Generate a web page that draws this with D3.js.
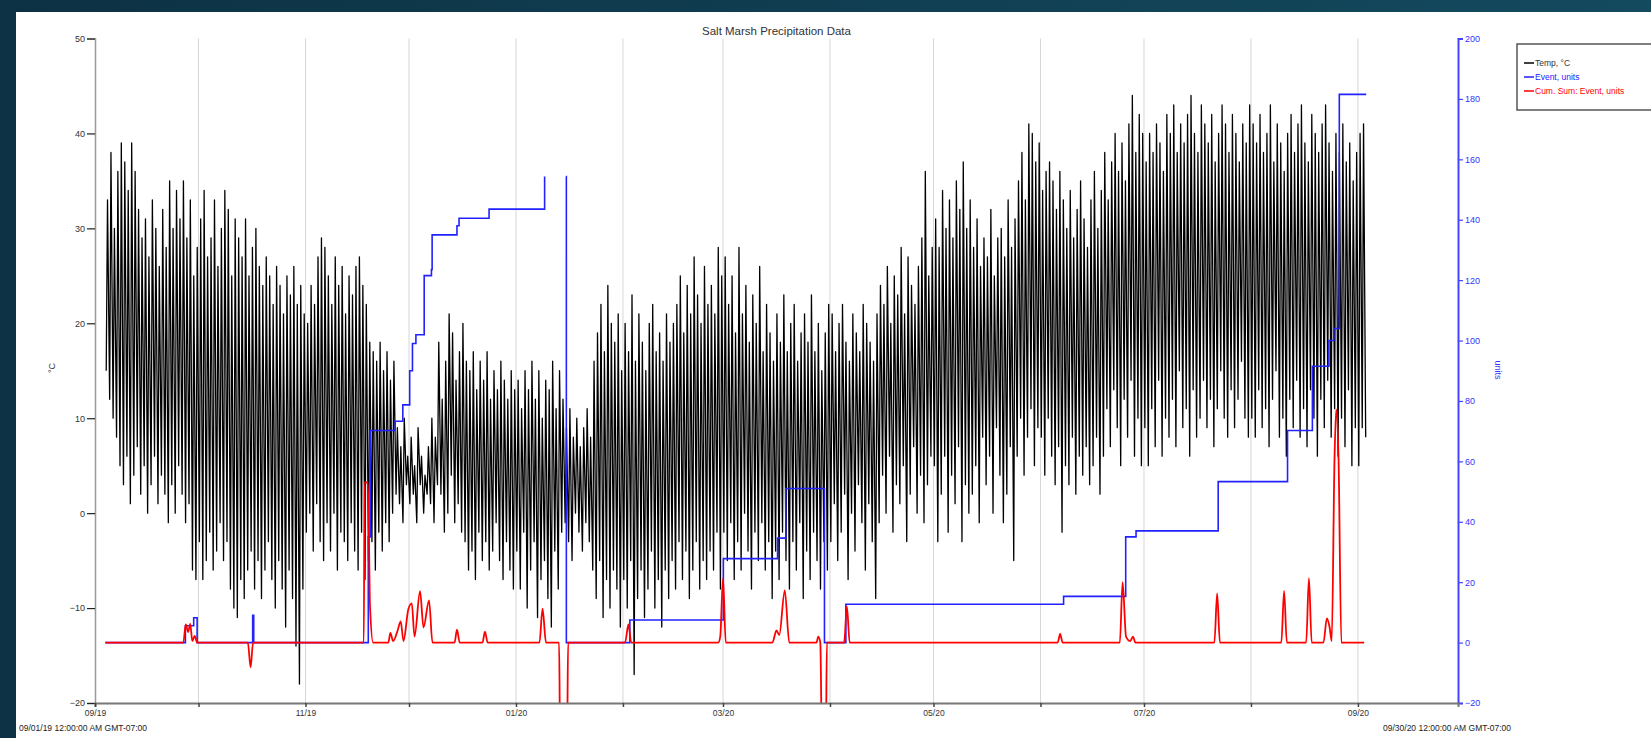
<!DOCTYPE html>
<html>
<head>
<meta charset="utf-8">
<script src="https://cdn.jsdelivr.net/npm/d3@7"></script>
<style>
  body { margin: 0; background: #0f3447; }
  svg { display: block; font-family: "Liberation Sans", Arial, sans-serif; }
</style>
</head>
<body>
<div id="chart"></div>
<script>
// daily low / high temperature (°C), from 09/04/19
const tempLow = [
  15, 12, 10, 8, 5, 3, 6, 1, 4, 7, 2, 5, 0, 3, 6, 1, 4, 2, -1, 3, 0, 5, 2, -1, 1, -6, -7,            // sep
  -3, -7, -5, -2, -6, -4, -1, -5, -3, -8, -10, -11, -7, -9, -6, -4, -8, -5, -9, -6, -3, -7, -10, -5, -8, -12, -6, -9, -14, -18, -8, // oct
  -2, 0, -4, 1, -3, -5, -1, -4, 0, -6, -2, -3, -5, -1, -4, -6, -2, -7, -5, -3, -6, -2, -4, -1, -3, 0, 2, 1, -1, 3, // nov
  1, 2, -1, 3, 0, 2, 1, -1, 3, 2, -2, 0, 4, -1, 1, -2, -3, -6, -4, -7, -2, -5, -3, -6, -4, -1, -5, -7, -3, -6, -8, // dec
  -4, -8, -2, -10, -6, -3, -11, -7, -5, -9, -12, -4, -8, -2, -1, -3, -5, 0, -2, -4, -1, -3, -6, -9, -5, -11, -7, -10, -6, -8, -12, // jan
  -7, -10, -5, -17, -9, -6, -11, -8, -4, -10, -7, -12, -6, -9, -5, -8, -3, -7, -4, -9, -6, -3, -8, -5, -7, -4, -6, -2, -8, // feb
  -2, -5, -1, -7, -3, -6, 0, -4, -8, -2, -5, -1, -6, -3, -9, -4, -7, -2, -5, -8, -3, -6, -1, -9, -4, -7, -2, -5, -8, -3, -6, // mar
  -3, 1, -5, -2, 2, -7, 0, -4, 3, -1, -6, 1, -3, -9, -1, 4, 0, 6, -2, 3, 1, 5, -3, 2, 7, 0, 4, -1, 3, 6, // apr
  5, -3, 2, 6, -2, 4, 1, 7, -3, 3, 0, 2, 5, -1, 8, 3, 6, 0, 9, 4, -1, 2, 7, -5, 6, 10, 4, 8, 11, 5, 9, // may
  8, 4, 10, 6, 3, 7, -2, 5, 3, 8, 2, 6, 4, 7, 3, 5, 8, 2, 6, 11, 7, 13, 9, 5, 12, 8, 14, 6, 10, 5, // jun
  9, 5, 11, 7, 14, 6, 10, 8, 12, 7, 15, 9, 11, 6, 13, 8, 10, 14, 9, 12, 7, 11, 15, 10, 8, 13, 9, 12, 16, 10, 8, // jul
  10, 8, 13, 9, 11, 7, 12, 15, 8, 10, 6, 12, 9, 14, 8, 11, 7, 13, 10, 6, 12, 9, 14, 8, 11, 6, 10, 7, 13, 5, 9, // aug
  5, 9, 8 // sep
];
const tempHigh = [
  33, 38, 30, 36, 39, 37, 34, 39, 36, 32, 29, 31, 27, 33, 30, 26, 32, 28, 35, 30, 34, 31, 35, 29, 33, 25, 28,
  31, 34, 27, 29, 33, 26, 30, 34, 32, 25, 31, 29, 27, 31, 25, 28, 30, 26, 24, 27, 25, 22, 26, 24, 21, 25, 23, 26, 22, 24, 21,
  20, 24, 22, 27, 29, 28, 25, 22, 27, 24, 26, 21, 25, 23, 26, 27, 24, 22, 18, 17, 16, 18, 15, 17, 14, 16, 9, 7, 10, 6,
  8, 5, 9, 6, 4, 7, 10, 8, 18, 12, 16, 21, 19, 14, 17, 20, 16, 15, 17, 13, 16, 14, 17, 12, 15, 13, 16, 14, 12, 15, 13,
  14, 11, 15, 13, 16, 12, 15, 10, 14, 13, 16, 11, 15, 12, 9, 11, 8, 10, 7, 9, 11, 8, 16, 19, 22, 17, 24, 20, 18, 21, 15,
  20, 17, 23, 16, 21, 18, 15, 20, 22, 17, 19, 16, 21, 18, 20, 22, 25, 19, 24, 21, 27, 23, 20, 26, 22, 24, 21, 28, 25,
  27, 22, 25, 19, 28, 21, 24, 18, 23, 20, 26, 17, 22, 19, 16, 21, 18, 23, 17, 20, 22, 16, 19, 21, 18, 23, 17, 20, 15, 19, 22,
  21, 17, 20, 22, 18, 16, 21, 19, 17, 22, 20, 18, 16, 21, 24, 22, 26, 20, 25, 23, 28, 21, 27, 24, 22, 26, 29, 36, 25, 28,
  31, 28, 34, 30, 33, 29, 35, 32, 37, 30, 33, 28, 31, 26, 29, 27, 32, 25, 29, 30, 27, 33, 28, 31, 35, 38, 33, 41, 40, 37, 39,
  34, 36, 37, 35, 32, 36, 33, 30, 34, 29, 32, 35, 31, 28, 33, 36, 30, 34, 38, 33, 37, 40, 36, 39, 35, 41, 44, 38, 42, 40,
  37, 40, 38, 41, 39, 36, 42, 40, 43, 38, 41, 39, 42, 44, 40, 38, 43, 41, 39, 42, 37, 40, 43, 41, 38, 42, 40, 37, 41, 39, 43,
  41, 39, 42, 38, 40, 43, 37, 41, 39, 36, 40, 42, 38, 41, 43, 39, 37, 42, 40, 38, 41, 43, 39, 36, 40, 38, 41, 37, 39, 35, 38,
  40, 41
];

// Event, units (step), days after 09/01/19
const eventDay = [3, 26.2, 28.6, 29.6, 45.7, 46.0, 79.2, 79.8, 87.0, 89.2, 91.2, 92.0, 93.0, 95.4, 97.5, 97.7,
  104.9, 105.5, 114.2, 130.3, 131.0, 136.5, 136.6, 155.0, 182.1, 197.8, 200.2, 211.4, 217.6, 280.7, 298.7,
  301.7, 325.5, 345.6, 352.8, 357.6, 359.0, 360.6, 368.4];
const eventVal = [0, 5.6, 8.2, 0, 9, 0, 35, 70.2, 73.3, 78.7, 90, 99, 101.9, 121.5, 123.5, 135,
  138, 140.5, 143.5, 154.3, null, 154.3, 0, 7.5, 27.8, 34.6, 51, 0, 12.7, 15.3, 35,
  37, 53.3, 70.2, 91.5, 100, 104, 181.5, 181.5];

// Cum. Sum: Event, units
const cumDay = [3, 25.6, 26.3, 27.0, 27.6, 28.2, 28.9, 29.6, 44.3, 45.1, 45.8,
  77.9, 78.1, 79.1, 79.7, 80.6, 85.0, 85.6, 86.4, 87.7, 88.6, 89.4, 90.8, 91.8, 92.6, 94.2, 95.2, 96.8, 97.8,
  104.2, 104.9, 105.7, 112.3, 113.0, 113.8, 128.8, 129.7, 130.7, 134.5, 134.8, 136.8, 137.1,
  153.6, 154.6, 155.4, 180.6, 181.2, 182.0, 182.8, 196.3, 197.5, 198.3, 199.9, 201.2,
  209.1, 209.6, 210.2, 210.7, 211.8, 212.1, 217.1, 217.9, 218.7, 279.0, 279.7, 280.4,
  297.0, 297.8, 298.8, 300.0, 300.8, 301.5, 324.4, 325.2, 326.0, 343.8, 344.6, 345.4,
  351.0, 351.8, 352.6, 356.0, 357.0, 357.8, 358.4, 359.2, 359.7, 360.4, 361.2, 367.8];
const cumVal = [0, 0, 6, 3.5, 6.2, 0.5, 2.2, 0, 0, -8.2, 0,
  0, 53, 53, 12, 0, 0, 3.2, 0.5, 4, 7, 0.5, 11, 13, 2, 17, 5, 14, 0,
  0, 4.3, 0, 0, 3.6, 0, 0, 11.2, 0, 0, -35, -35, 0,
  0, 6, 0, 0, 2, 21.3, 0, 0, 4, 2.5, 17.3, 0,
  0, 2, 0, -35, -35, 0, 0, 12, 0, 0, 2.9, 0,
  0, 20, 2, 0.5, 2, 0, 0, 16.3, 0, 0, 17.1, 0,
  0, 21.3, 0, 0, 8, 5, 0.5, 60, 77.2, 60, 0, 0];

const leftTicks = [-20, -10, 0, 10, 20, 30, 40, 50];
const rightTicks = [-20, 0, 20, 40, 60, 80, 100, 120, 140, 160, 180, 200];
const legendNames = ["Temp, °C", "Event, units", "Cum. Sum: Event, units"];
const legendColors = ["#000", "#2222ff", "#ff0000"];

let W = 1651, H = 738;
let axisStart = new Date(2019, 8, 1), axisEnd = new Date(2020, 8, 30);
let plot = {left: 95, right: 1458, top: 38.5, bottom: 703};

let x = d3.scaleTime().domain([axisStart, axisEnd]).range([plot.left, plot.right]);
let yL = d3.scaleLinear().domain([-20, 50]).range([plot.bottom, plot.top]);
let yR = d3.scaleLinear().domain([-20, 200]).range([plot.bottom, plot.top]);
let atDay = (d) => d3.timeMinute.offset(axisStart, Math.round(d * 1440));

let svg = d3.select("#chart").append("svg")
    .attr("width", W)
    .attr("height", H);

let grad = svg.append("defs").append("linearGradient")
    .attr("id", "bg");
grad.append("stop").attr("offset", "0%").attr("stop-color", "#0d3144");
grad.append("stop").attr("offset", "100%").attr("stop-color", "#144a5e");
svg.select("defs").append("clipPath").attr("id", "clip")
  .append("rect")
    .attr("x", plot.left).attr("y", plot.top)
    .attr("width", plot.right - plot.left).attr("height", plot.bottom - plot.top);

svg.append("rect").attr("width", W).attr("height", H).attr("fill", "url(#bg)");
svg.append("rect").attr("x", 16).attr("y", 12).attr("width", W - 16).attr("height", H - 12).attr("fill", "#fff");

// month gridlines
let months = d3.timeMonth.range(axisStart, d3.timeDay.offset(axisEnd, 1));
svg.append("g").selectAll("line")
  .data(months.slice(1))
  .enter().append("line")
    .attr("x1", (d) => x(d)).attr("x2", (d) => x(d))
    .attr("y1", plot.top).attr("y2", plot.bottom)
    .attr("stroke", "#d6d6d6")
    .attr("stroke-width", 1);

// title
svg.append("text")
    .attr("x", (plot.left + plot.right) / 2)
    .attr("y", 35)
    .attr("text-anchor", "middle")
    .attr("font-size", "11.5px")
    .attr("fill", "#333")
    .text("Salt Marsh Precipitation Data");

// temperature points: low early morning, high mid afternoon
let tempStart = new Date(2019, 8, 4);
let tempPts = [];
tempLow.forEach((lo, i) => {
  let day = d3.timeDay.offset(tempStart, i);
  tempPts.push({t: d3.timeHour.offset(day, 6), v: lo});
  if (tempHigh[i] != null) tempPts.push({t: d3.timeHour.offset(day, 15), v: tempHigh[i]});
});

let eventPts = eventDay.map((d, i) => ({t: atDay(d), v: eventVal[i]}));
let cumPts = cumDay.map((d, i) => ({t: atDay(d), v: cumVal[i]}));

let plotG = svg.append("g").attr("clip-path", "url(#clip)");

plotG.append("path")
    .datum(tempPts)
    .attr("fill", "none")
    .attr("stroke", "#000")
    .attr("stroke-width", 1.3)
    .attr("stroke-linejoin", "round")
    .attr("d", d3.line().x((d) => x(d.t)).y((d) => yL(d.v)));

plotG.append("path")
    .datum(eventPts)
    .attr("fill", "none")
    .attr("stroke", "#2222ff")
    .attr("stroke-width", 1.6)
    .attr("d", d3.line()
      .defined((d) => d.v != null)
      .curve(d3.curveStepAfter)
      .x((d) => x(d.t)).y((d) => yR(d.v)));

plotG.append("path")
    .datum(cumPts)
    .attr("fill", "none")
    .attr("stroke", "#ff0000")
    .attr("stroke-width", 1.8)
    .attr("d", d3.line()
      .curve(d3.curveMonotoneX)
      .x((d) => x(d.t)).y((d) => yR(d.v)));

// left axis
let gL = svg.append("g").attr("transform", `translate(${plot.left},0)`);
gL.call(d3.axisLeft(yL).ticks(70).tickSize(4).tickFormat(""));
gL.call(d3.axisLeft(yL).tickValues(leftTicks).tickSize(8).tickPadding(2));
gL.selectAll(".domain").attr("stroke", "#999").attr("stroke-width", 1.5);
gL.selectAll(".tick line").attr("stroke", "#222").attr("stroke-width", 1.2);
gL.selectAll("text").attr("font-size", "9px").attr("fill", "#333").attr("font-family", null);

svg.append("text")
    .attr("transform", "translate(55,368) rotate(-90)")
    .attr("text-anchor", "middle")
    .attr("font-size", "9px")
    .attr("fill", "#333")
    .text("°C");

// right axis
let gR = svg.append("g").attr("transform", `translate(${plot.right},0)`);
gR.call(d3.axisRight(yR).ticks(22).tickSize(3).tickFormat(""));
gR.call(d3.axisRight(yR).tickValues(rightTicks).tickSize(5).tickPadding(2));
gR.selectAll(".domain").attr("stroke", "#4444ff").attr("stroke-width", 2);
gR.selectAll(".tick line").attr("stroke", "#4444ff").attr("stroke-width", 1.2);
gR.selectAll("text").attr("font-size", "9px").attr("fill", "#3333ff").attr("font-family", null);

svg.append("text")
    .attr("transform", "translate(1495,370) rotate(90)")
    .attr("text-anchor", "middle")
    .attr("font-size", "9px")
    .attr("fill", "#3333ff")
    .text("units");

// bottom axis
let fmt = d3.timeFormat("%m/%y");
let gB = svg.append("g").attr("transform", `translate(0,${plot.bottom})`);
gB.call(d3.axisBottom(x).tickValues(months).tickSize(4).tickPadding(3)
    .tickFormat((d) => d.getMonth() % 2 == 0 ? fmt(d) : ""));
gB.selectAll(".domain").attr("stroke", "#777").attr("stroke-width", 2);
gB.selectAll(".tick line").attr("stroke", "#444").attr("stroke-width", 1.5);
gB.selectAll("text").attr("font-size", "8.5px").attr("fill", "#333").attr("font-family", null);

svg.append("text")
    .attr("x", 19).attr("y", 731)
    .attr("font-size", "8.5px")
    .attr("fill", "#222")
    .text("09/01/19 12:00:00 AM GMT-07:00");

svg.append("text")
    .attr("x", 1383).attr("y", 731)
    .attr("font-size", "8.5px")
    .attr("fill", "#222")
    .text("09/30/20 12:00:00 AM GMT-07:00");

// legend
let lg = svg.append("g");
lg.append("rect")
    .attr("x", 1517).attr("y", 44)
    .attr("width", 160).attr("height", 66)
    .attr("fill", "#fff")
    .attr("stroke", "#555")
    .attr("stroke-width", 1.5);

let item = lg.selectAll("g.item")
  .data(legendNames)
  .enter().append("g")
    .attr("class", "item")
    .attr("transform", (d, i) => `translate(1524,${63 + i * 14})`);
item.append("line")
    .attr("x1", 0).attr("x2", 10)
    .attr("stroke", (d, i) => legendColors[i])
    .attr("stroke-width", 1.5);
item.append("text")
    .attr("x", 11).attr("y", 3)
    .attr("font-size", "8.5px")
    .attr("fill", (d, i) => i == 0 ? "#333" : legendColors[i])
    .text((d) => d);
</script>
</body>
</html>
